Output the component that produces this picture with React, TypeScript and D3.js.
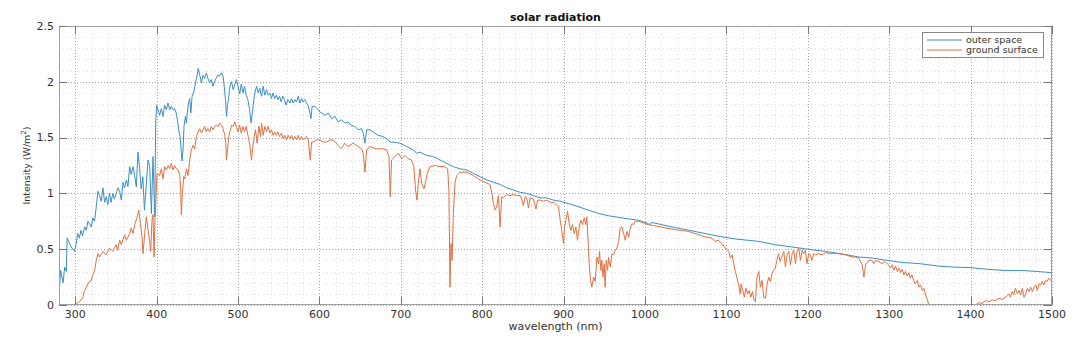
import React from "react";
import * as d3 from "d3";

// ---- Data ----
const outerWl = [280,282,285,287,289,290,293,295,299,301,303,305,307,309,311.5,313.5,315.5,319.7,321.6,323.6,325.8,327.8,329.8,331.9,334,336,338,340,342,344,346,348,352.5,354.5,356.6,358.6,360.6,362.7,364.7,366.8,368.8,370.9,372.9,375,377,379,381,383,385,387,389.4,391.4,393.5,395.5,397.6,398.8,400,403.7,405.7,407.8,409.8,411.9,413.9,416,418,420,422,424,425.5,427,428.8,430.4,431.2,432.4,433.6,435.3,436.5,438.6,440.6,442,443.5,446,447.7,449,451,453,455,457,459,461,463,465,467,469,471,473,475,477,479.6,481.6,483,484.5,485.8,487,489,490,492,494,498,500,502,504,506,508,510,512,514,516,518,520,522.7,524.7,526.8,528.8,530.9,532.9,535,537,539,541,543,545,547,549,551,553,555,557,559,561,563.6,565.7,567.7,569.8,571.8,573.9,576,578,580,582,584,586,588.3,589.5,591,594.4,598.5,600.5,606.7,611,615,619,623,627,631,635,639,643.5,647.6,651.7,653.8,655.9,658,662,666,672,678,684.5,686.6,690.7,699,707,715,719.4,723.5,731.7,740,748,756,764.5,772.7,781,789,797.3,805.5,813.7,822,830,838.3,846.5,854.7,863,871,879,887.5,895.7,910,930.6,943,955,971.6,992,1004,1006,1008,1033,1053.6,1074,1094.6,1113,1139.7,1160,1180.7,1200,1221.7,1240,1262.7,1280,1297,1318,1338,1359,1379,1400,1420,1441,1461,1482,1500];
const outerVal = [0.10,0.31,0.20,0.34,0.30,0.60,0.55,0.52,0.48,0.54,0.64,0.60,0.67,0.62,0.70,0.67,0.75,0.70,0.78,0.75,0.88,1.02,0.98,0.93,1.05,0.92,0.97,0.90,1.00,0.92,1.00,0.95,1.05,1.02,0.94,1.10,1.05,1.12,1.06,1.24,1.17,1.24,1.16,1.06,1.37,1.23,1.04,1.15,0.85,1.06,1.30,1.25,0.82,1.33,0.79,1.63,1.79,1.70,1.76,1.69,1.79,1.75,1.81,1.75,1.78,1.75,1.76,1.72,1.66,1.57,1.51,1.36,1.29,1.39,1.60,1.69,1.63,1.79,1.85,1.72,1.87,1.92,1.99,2.03,2.12,2.06,1.99,2.06,2.03,2.08,2.03,1.99,2.02,1.96,2.00,2.03,2.06,2.05,2.08,2.05,1.96,1.84,1.69,1.79,1.89,1.96,2.00,1.93,2.02,1.96,1.89,1.98,1.90,1.96,1.88,1.84,1.76,1.63,1.75,1.88,1.96,1.90,1.94,1.87,1.96,1.88,1.93,1.88,1.90,1.85,1.90,1.85,1.88,1.84,1.87,1.82,1.87,1.84,1.79,1.84,1.81,1.85,1.81,1.84,1.82,1.87,1.81,1.85,1.82,1.84,1.81,1.79,1.72,1.67,1.78,1.78,1.75,1.73,1.70,1.72,1.67,1.69,1.64,1.66,1.63,1.64,1.61,1.60,1.57,1.58,1.54,1.45,1.57,1.57,1.55,1.52,1.51,1.48,1.46,1.46,1.45,1.42,1.39,1.36,1.37,1.34,1.33,1.30,1.27,1.24,1.22,1.21,1.18,1.15,1.12,1.10,1.08,1.05,1.03,1.01,1.00,0.98,0.96,0.96,0.94,0.93,0.90,0.85,0.82,0.80,0.78,0.76,0.73,0.72,0.74,0.70,0.67,0.64,0.61,0.59,0.57,0.54,0.52,0.50,0.48,0.46,0.43,0.42,0.40,0.38,0.37,0.35,0.34,0.335,0.32,0.31,0.31,0.30,0.29];

const groundWl = [298,305,309,311,317,319.7,321,323.8,325.8,327.9,330,334,338,342,346,350,352,354.5,356.6,360.6,362.7,366.8,368.8,370.9,373,375.8,378,380,382,383.2,385.3,387.3,389.4,391.4,392.6,394.3,395.5,396.7,398,398.8,400.4,403.7,405.7,407.8,409.8,411.9,414,416,418,420,422,424.2,426.2,428.3,429.5,430.3,431.6,433.2,434.5,436.5,438.5,440.6,442.6,444.7,446.7,448.8,450.8,452.9,455,457,459,461,463,465.2,467.2,469.3,471.3,473.4,475.5,477.5,479.6,481.6,483.7,484.9,485.7,487,488.6,491.9,494,496,498,500,502,504,506,508,510,512.4,514.5,516.5,517.7,519.8,521.4,523.5,525.5,527.6,528.8,530.9,532.9,535,537,539,541,543,545,547,549,551,553.4,555.4,557.5,559.5,561.6,563.7,565.7,567.8,569.8,571.9,573.9,576,578,580,582.1,584.2,586.2,587.4,588.7,590.3,592.4,596.5,600.5,604.7,608.7,612.9,617,623,627,631,635,641.5,647.7,651.7,653.8,655.9,658,662,670,678,682.5,685.4,687,688.6,692.8,697,701,705,709,713,716,718,719.8,721.5,723.5,725.5,728.4,730.9,732.5,735.8,742,748,754,757.5,759,760.4,761.6,762.9,764.5,766.6,768.6,772.7,781,789,797.3,803.5,809.6,811.6,813.7,815.8,817.8,819.9,821.9,824,826,830,834,838,842.4,846.5,848.6,850.6,852.7,854.7,856.8,858.8,863,866,868,871,875,879.3,883.4,887.5,889.6,893.7,895.8,897.8,899.9,901,902.7,904.8,906.8,908.9,910.9,913,915,917,919.1,921.2,923.2,925.3,927.3,928.5,929.8,931.4,933,934.7,936.8,938.8,940.9,942.9,944.1,945.8,947,948.2,949.9,951,952.3,954,955.2,957.3,959.3,961.4,963.4,965.5,967.5,969.6,971.6,973.7,975.7,977.8,979.8,981.9,983.9,986,988,992,1004,1012,1033,1053,1066,1074,1082,1086,1090,1094.6,1098.7,1102.8,1104.9,1107,1109,1111,1113,1115,1117,1118,1120,1122,1124,1126,1128,1130,1132,1134,1135.6,1137.6,1139.7,1141.8,1143.8,1145.9,1148,1150,1152,1154,1156,1158,1160,1162,1164,1166,1168,1170.5,1172.5,1174.5,1176.6,1178.6,1180.7,1182.7,1184.8,1186.8,1188.9,1191,1193,1195,1197,1199,1201,1203,1205,1207.3,1209.4,1213.5,1217.6,1221.7,1225.8,1230,1234,1238,1246,1254.5,1258.6,1262.7,1264.8,1266.8,1268.9,1271,1275,1279,1281,1283,1287,1291,1295,1299,1301.7,1303.7,1305.7,1307.8,1310,1312,1314,1316,1318,1320,1322,1324,1326,1328,1330,1332,1334.5,1336.5,1338.5,1340.6,1342.6,1344.7,1346.7,1348.8,1406,1410,1414,1418.5,1422.6,1426.7,1430.8,1434.9,1439,1443,1447,1449,1451,1453,1455,1457.5,1459.5,1461.5,1463.6,1465.6,1467.7,1469.8,1471.8,1473.8,1475.9,1478,1480,1482,1484,1486,1488,1490,1492,1494,1496,1498.5,1500];
const groundVal = [0.00,0.03,0.06,0.12,0.21,0.22,0.26,0.31,0.40,0.46,0.43,0.48,0.45,0.51,0.48,0.54,0.49,0.58,0.54,0.63,0.58,0.64,0.69,0.64,0.72,0.78,0.85,0.73,0.61,0.46,0.64,0.79,0.67,0.57,0.48,0.76,0.81,0.43,0.79,0.88,1.18,1.16,1.22,1.13,1.24,1.21,1.25,1.22,1.27,1.21,1.25,1.22,1.21,1.17,1.03,0.81,1.00,1.15,1.13,1.22,1.16,1.30,1.39,1.43,1.40,1.51,1.55,1.58,1.54,1.57,1.60,1.55,1.58,1.55,1.60,1.57,1.60,1.61,1.60,1.63,1.61,1.58,1.52,1.45,1.30,1.39,1.51,1.61,1.60,1.64,1.60,1.55,1.61,1.54,1.60,1.55,1.60,1.51,1.43,1.30,1.39,1.51,1.57,1.45,1.60,1.51,1.63,1.52,1.60,1.55,1.60,1.54,1.57,1.52,1.55,1.52,1.55,1.51,1.54,1.49,1.52,1.48,1.52,1.49,1.52,1.48,1.51,1.48,1.52,1.48,1.51,1.48,1.49,1.51,1.48,1.39,1.30,1.46,1.46,1.48,1.48,1.46,1.46,1.48,1.48,1.43,1.40,1.45,1.42,1.45,1.42,1.40,1.36,1.19,1.39,1.42,1.40,1.40,1.39,1.33,0.97,1.30,1.33,1.36,1.31,1.34,1.31,1.30,1.24,1.03,0.94,1.09,1.22,1.09,1.04,1.12,1.18,1.24,1.25,1.24,1.24,1.22,1.03,0.16,0.55,0.40,0.82,1.10,1.16,1.19,1.19,1.16,1.12,1.10,1.08,1.01,0.91,0.85,0.88,0.98,0.70,0.97,0.96,0.99,0.98,0.99,0.98,0.98,0.95,0.89,0.97,0.96,0.87,0.96,0.95,0.86,0.94,0.94,0.93,0.94,0.92,0.92,0.91,0.88,0.76,0.66,0.55,0.69,0.76,0.84,0.73,0.67,0.72,0.64,0.70,0.58,0.70,0.76,0.72,0.78,0.72,0.79,0.61,0.37,0.22,0.16,0.25,0.21,0.43,0.37,0.48,0.31,0.40,0.25,0.37,0.16,0.40,0.31,0.43,0.34,0.46,0.45,0.49,0.51,0.57,0.69,0.70,0.64,0.58,0.66,0.61,0.69,0.73,0.72,0.75,0.75,0.72,0.71,0.68,0.66,0.63,0.61,0.60,0.57,0.58,0.55,0.51,0.48,0.42,0.45,0.37,0.30,0.24,0.18,0.10,0.19,0.13,0.07,0.15,0.10,0.13,0.07,0.12,0.04,0.03,0.25,0.30,0.16,0.22,0.07,0.06,0.19,0.25,0.21,0.28,0.31,0.33,0.40,0.46,0.39,0.43,0.48,0.34,0.45,0.48,0.36,0.46,0.49,0.37,0.48,0.51,0.40,0.49,0.46,0.49,0.37,0.46,0.45,0.40,0.46,0.45,0.46,0.45,0.47,0.46,0.46,0.46,0.46,0.45,0.43,0.43,0.42,0.39,0.36,0.25,0.36,0.40,0.40,0.37,0.40,0.39,0.37,0.39,0.36,0.33,0.36,0.31,0.35,0.30,0.33,0.29,0.32,0.27,0.30,0.26,0.29,0.24,0.27,0.22,0.19,0.22,0.16,0.18,0.13,0.15,0.09,0.05,0.00,0.00,0.02,0.015,0.04,0.03,0.045,0.04,0.06,0.05,0.07,0.10,0.07,0.12,0.09,0.15,0.10,0.13,0.09,0.15,0.07,0.10,0.15,0.12,0.16,0.12,0.16,0.18,0.13,0.19,0.18,0.21,0.18,0.22,0.21,0.24,0.22,0.25];

const xTicks = [300,400,500,600,700,800,900,1000,1100,1200,1300,1400,1500];
const yTicks = [0,0.5,1,1.5,2,2.5];
const yTickLabels = ["0","0.5","1","1.5","2","2.5"];
const seriesNames = ["outer space", "ground surface"];
const seriesColors = ["#3c8fc2", "#e07140"];

const W = 1080, H = 342;
const M = { left: 59, right: 1052, top: 26, bottom: 305 };
const FONT = "'DejaVu Sans', sans-serif";

export default function App() {
  const x = d3.scaleLinear().domain([280, 1500]).range([M.left, M.right]);
  const y = d3.scaleLinear().domain([0, 2.5]).range([M.bottom, M.top]);

  const outer = outerWl.map((w, i) => [w, outerVal[i]] as [number, number]);
  const ground = groundWl.map((w, i) => [w, groundVal[i]] as [number, number]);
  const line = d3.line<[number, number]>().x(d => x(d[0])).y(d => y(d[1]));

  const minorX = d3.range(280, 1501, 20).filter(v => v % 100 !== 0);
  const minorY = d3.range(1, 25).map(v => v / 10).filter(v => Math.abs(v * 2 - Math.round(v * 2)) > 1e-6);

  const tickLen = 8;

  return (
    <svg width={W} height={H} style={{ position: "absolute", left: 0, top: 0, background: "#fff" }}>
      <defs>
        <clipPath id="plotclip">
          <rect x={M.left} y={M.top} width={M.right - M.left} height={M.bottom - M.top} />
        </clipPath>
      </defs>
      <rect x={0} y={0} width={W} height={H} fill="#fff" />
      {/* minor grid */}
      <g stroke="#dedede" strokeWidth={1} strokeDasharray="1,3">
        {minorX.map(v => (
          <line key={"mx" + v} x1={Math.round(x(v)) + 0.5} x2={Math.round(x(v)) + 0.5} y1={M.top} y2={M.bottom} />
        ))}
        {minorY.map(v => (
          <line key={"my" + v} x1={M.left} x2={M.right} y1={Math.round(y(v)) + 0.5} y2={Math.round(y(v)) + 0.5} />
        ))}
      </g>
      {/* major grid */}
      <g stroke="#a8a8a8" strokeWidth={1} strokeDasharray="1,2">
        {xTicks.map(v => (
          <line key={"gx" + v} x1={Math.round(x(v)) + 0.5} x2={Math.round(x(v)) + 0.5} y1={M.top} y2={M.bottom} />
        ))}
        {yTicks.map(v => (
          <line key={"gy" + v} x1={M.left} x2={M.right} y1={Math.round(y(v)) + 0.5} y2={Math.round(y(v)) + 0.5} />
        ))}
      </g>
      {/* series */}
      <g clipPath="url(#plotclip)" fill="none" strokeWidth={1} strokeLinejoin="round">
        <path d={line(outer) || ""} stroke={seriesColors[0]} />
        <path d={line(ground) || ""} stroke={seriesColors[1]} />
      </g>
      {/* box */}
      <rect x={M.left + 0.5} y={M.top + 0.5} width={M.right - M.left - 1} height={M.bottom - M.top - 1} fill="none" stroke="#a0a0a0" strokeWidth={1} />
      {/* ticks */}
      <g stroke="#777" strokeWidth={1}>
        {xTicks.map(v => {
          const px = Math.round(x(v)) + 0.5;
          return (
            <g key={"tx" + v}>
              <line x1={px} x2={px} y1={M.bottom} y2={M.bottom - tickLen} />
              <line x1={px} x2={px} y1={M.top} y2={M.top + tickLen} />
            </g>
          );
        })}
        {yTicks.map(v => {
          const py = Math.round(y(v)) + 0.5;
          return (
            <g key={"ty" + v}>
              <line x1={M.left} x2={M.left + tickLen} y1={py} y2={py} />
              <line x1={M.right} x2={M.right - tickLen} y1={py} y2={py} />
            </g>
          );
        })}
      </g>
      {/* tick labels */}
      <g fontFamily={FONT} fontSize={11} fill="#333">
        {xTicks.map(v => (
          <text key={"lx" + v} x={x(v)} y={318} textAnchor="middle">{v}</text>
        ))}
        {yTicks.map((v, i) => (
          <text key={"ly" + v} x={54} y={y(v)} dy="0.35em" textAnchor="end">{yTickLabels[i]}</text>
        ))}
      </g>
      {/* title & axis labels */}
      <text x={(M.left + M.right) / 2} y={21} textAnchor="middle" fontFamily={FONT} fontSize={11} fontWeight="bold" fill="#111">solar radiation</text>
      <text x={(M.left + M.right) / 2} y={330} textAnchor="middle" fontFamily={FONT} fontSize={11} fill="#333">wavelength (nm)</text>
      <text transform={`translate(30,${(M.top + M.bottom) / 2}) rotate(-90)`} textAnchor="middle" fontFamily={FONT} fontSize={9.5} fill="#333">
        Intensity (W/m<tspan fontSize={7} dy={-4}>2</tspan><tspan dy={4}>)</tspan>
      </text>
      {/* legend */}
      <g>
        <rect x={922.5} y={32.5} width={121} height={25} fill="#fff" stroke="#888" strokeWidth={1} />
        {seriesNames.map((name, i) => (
          <g key={name}>
            <line x1={927} x2={962} y1={40 + i * 10} y2={40 + i * 10} stroke={seriesColors[i]} strokeWidth={1} />
            <text x={966} y={40 + i * 10} dy="0.35em" fontFamily={FONT} fontSize={9.5} fill="#333">{name}</text>
          </g>
        ))}
      </g>
    </svg>
  );
}
